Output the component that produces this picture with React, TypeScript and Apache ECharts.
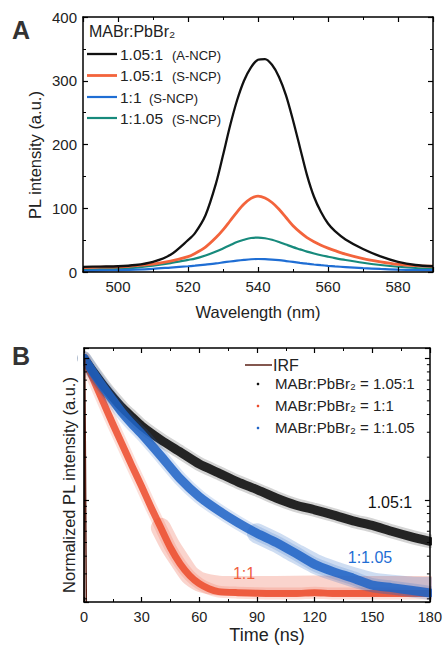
import React, { useEffect, useRef } from "react";
import * as echarts from "echarts";

// ---------- Panel A: PL spectra ----------
const WAVELENGTH = [490, 495, 500, 505, 510, 515, 520, 522, 525, 528, 530, 532, 534, 536, 538, 540, 542, 544, 546, 548, 550, 552, 554, 556, 558, 560, 562, 565, 570, 575, 580, 585, 590];
const PL_105_ANCP = [8, 8.5, 9, 11, 16, 27, 50, 61, 89, 139, 183, 229, 269, 300, 321, 333, 334, 325, 306, 277, 238, 195, 152, 118, 94, 76, 64, 51, 36, 24.5, 16, 11, 9];
const PL_105_SNCP = [7, 7.5, 8, 10, 12.5, 17, 24, 29, 39, 54, 66, 80, 94, 106.5, 115.5, 119, 116, 109, 98.5, 85.5, 72.5, 62.5, 54, 47.5, 42, 37.5, 33.5, 28, 21, 16, 12, 10, 9];
const PL_11_SNCP = [2, 2.5, 3, 3.7, 5, 7, 9, 10, 11.7, 13.5, 15, 16.5, 17.8, 19, 20, 20.4, 20.2, 19.5, 18.5, 17.2, 15.8, 14.3, 13, 11.8, 10.7, 9.7, 8.8, 7.7, 6, 4.8, 3.8, 3.2, 2.8];
const PL_1105_SNCP = [4, 4.5, 5, 7, 10, 14, 19, 21, 26, 32, 37, 42, 47, 50.5, 53.3, 54, 53, 50.5, 47, 43, 39, 35.5, 32, 29, 26.3, 24, 21.8, 18.8, 14.5, 11, 8.2, 6.3, 5];
const SPEC_NAMES = ["1.05:1 (A-NCP)", "1.05:1 (S-NCP)", "1:1 (S-NCP)", "1:1.05 (S-NCP)"];
const PL_Y_RANGE = [0, 400, 100];
const WL_RANGE = [490, 590];

// ---------- Panel B: TRPL decays (normalized, log scale) ----------
const TIME_RANGE = [0, 180, 30];
const TIME_MAIN = [0, 5, 10, 15, 20, 25, 30, 40, 50, 60, 70, 80, 90, 100, 110, 120, 130, 140, 150, 160, 170, 180];
const DECAY_105 = [1.0, 0.797, 0.645, 0.531, 0.445, 0.384, 0.332, 0.265, 0.218, 0.179, 0.155, 0.134, 0.118, 0.103, 0.092, 0.085, 0.078, 0.071, 0.066, 0.06, 0.055, 0.051];
const DECAY_1105 = [1.0, 0.784, 0.625, 0.506, 0.41, 0.343, 0.292, 0.204, 0.141, 0.105, 0.084, 0.069, 0.058, 0.05, 0.042, 0.035, 0.031, 0.028, 0.025, 0.024, 0.023, 0.022];
const TIME_11 = [0, 5, 10, 15, 20, 25, 30, 35, 40, 45, 50, 55, 60, 65, 70, 80, 90, 100, 110, 120, 130, 140, 150, 160, 170, 180];
const DECAY_11 = [1.0, 0.7, 0.49, 0.343, 0.244, 0.173, 0.124, 0.088, 0.0635, 0.0459, 0.0354, 0.0292, 0.0256, 0.0236, 0.0225, 0.0221, 0.0219, 0.0218, 0.0218, 0.0221, 0.0218, 0.0218, 0.0218, 0.0219, 0.0218, 0.0218];
// centre of the wide, sparse noise-floor cloud of the 1:1 trace
const FLOOR_11_TIME = [40, 45, 50, 55, 60, 70, 80, 100, 120, 140, 160, 180];
const FLOOR_11_MID = [0.0635, 0.047, 0.037, 0.0295, 0.0265, 0.0248, 0.0246, 0.0246, 0.0248, 0.0246, 0.0246, 0.0246];
// centre of the widening 1:1.05 cloud at long times
const FLOOR_1105_TIME = [90, 100, 110, 120, 130, 140, 150, 160, 170, 180];
const FLOOR_1105_MID = [0.058, 0.05, 0.042, 0.0355, 0.0315, 0.0285, 0.0262, 0.0252, 0.0245, 0.0242];
const IRF_TIME = [0, 0.4, 1.2];
const IRF_VALUE = [0.019, 1.0, 0.019];
const LOG_RANGE = [0.019, 1.18];
const LOG_MINOR_TICKS = [0.02, 0.03, 0.04, 0.05, 0.06, 0.07, 0.08, 0.09, 0.2, 0.3, 0.4, 0.5, 0.6, 0.7, 0.8, 0.9];
const DECAY_NAMES = ["IRF", "MABr:PbBr₂ = 1.05:1", "MABr:PbBr₂ = 1:1", "MABr:PbBr₂ = 1:1.05"];
const DECAY_LABELS = ["1.05:1", "1:1.05", "1:1"];

const FONT = "'Liberation Sans', Arial, Helvetica, sans-serif";
const TXT = "#222";
const C_BLACK = "#111111";
const C_ORANGE = "#f3643c";
const C_BLUE = "#1f6ed4";
const C_TEAL = "#178a7c";
const C_RED = "#ec4b2c";
const C_BBLUE = "#1f63c6";
const C_IRF = "#5a1f14";

const axisLine = { show: true, onZero: false, lineStyle: { color: "#000", width: 1.5 } };

function valAxis(gridIndex: number, position: string, min: number, max: number, extra: any = {}) {
  return {
    type: "value",
    gridIndex,
    position,
    min,
    max,
    z: 8,
    axisLine,
    axisTick: { show: true, inside: true, length: 5, lineStyle: { color: "#000", width: 1.2 } },
    minorTick: { show: true, splitNumber: 2, length: 3, lineStyle: { color: "#000", width: 1 } },
    splitLine: { show: false },
    axisLabel: { show: false },
    ...extra,
  };
}

const tickLabel = (margin: number, fontSize = 15) => ({
  show: true,
  margin,
  fontSize,
  color: TXT,
  fontFamily: FONT,
  showMinLabel: false,
  showMaxLabel: false,
});

function text(x: number, y: number, t: string, fontSize: number, fill: string, align = "left", rotation = 0, extra: any = {}) {
  return {
    type: "text",
    x,
    y,
    z: 9,
    rotation,
    silent: true,
    style: { text: t, fontSize, fill, fontFamily: FONT, align, verticalAlign: "middle", ...extra },
  };
}

function legendLine(x1: number, x2: number, y: number, color: string, width: number) {
  return { type: "line", silent: true, z: 9, shape: { x1, y1: y, x2, y2: y }, style: { stroke: color, lineWidth: width } };
}

export default function App() {
  const ref = useRef<HTMLDivElement>(null);
  useEffect(() => {
    document.body.style.margin = "0";
    const chart = echarts.init(ref.current!, null, { renderer: "svg" });

    const pair = (xs: number[], ys: number[]) => xs.map((x, i) => [x, ys[i]]);

    const specSeries = [
      { name: SPEC_NAMES[3], data: PL_1105_SNCP, color: C_TEAL, w: 2.2 },
      { name: SPEC_NAMES[2], data: PL_11_SNCP, color: C_BLUE, w: 2.2 },
      { name: SPEC_NAMES[1], data: PL_105_SNCP, color: C_ORANGE, w: 2.8 },
      { name: SPEC_NAMES[0], data: PL_105_ANCP, color: C_BLACK, w: 2.3 },
    ].map((s, i) => ({
      type: "line",
      name: s.name,
      xAxisIndex: 0,
      yAxisIndex: 0,
      data: pair(WAVELENGTH, s.data),
      showSymbol: false,
      smooth: 0.3,
      lineStyle: { color: s.color, width: s.w },
      itemStyle: { color: s.color },
      z: 3 + i,
    }));

    const band = (name: string | undefined, xs: number[], ys: number[], color: string, width: number, opacity: number, z: number) => ({
      type: "line",
      name,
      xAxisIndex: 2,
      yAxisIndex: 2,
      data: pair(xs, ys),
      showSymbol: false,
      clip: true,
      silent: !name,
      smooth: 0.2,
      lineStyle: { color, width, opacity, cap: "round", join: "round" },
      itemStyle: { color },
      z,
    });

    const option: any = {
      animation: false,
      backgroundColor: "#ffffff",
      grid: [
        { left: 83, top: 17, width: 350, height: 255 },
        { left: 84, top: 348, width: 347, height: 254 },
      ],
      xAxis: [
        valAxis(0, "bottom", WL_RANGE[0], WL_RANGE[1], { splitNumber: 5, axisLabel: tickLabel(7) }),
        valAxis(0, "top", WL_RANGE[0], WL_RANGE[1], { splitNumber: 5 }),
        valAxis(1, "bottom", TIME_RANGE[0], TIME_RANGE[1], { interval: TIME_RANGE[2], axisLabel: { ...tickLabel(7, 14.5), showMinLabel: true, showMaxLabel: true } }),
        valAxis(1, "top", TIME_RANGE[0], TIME_RANGE[1], { interval: TIME_RANGE[2] }),
      ],
      yAxis: [
        valAxis(0, "left", PL_Y_RANGE[0], PL_Y_RANGE[1], { interval: PL_Y_RANGE[2], axisLabel: { ...tickLabel(6), showMinLabel: true, showMaxLabel: true } }),
        valAxis(0, "right", PL_Y_RANGE[0], PL_Y_RANGE[1], { interval: PL_Y_RANGE[2] }),
        { ...valAxis(1, "left", LOG_RANGE[0], LOG_RANGE[1]), type: "log", minorTick: { show: false } },
        { ...valAxis(1, "right", LOG_RANGE[0], LOG_RANGE[1]), type: "log", minorTick: { show: false } },
      ],
      series: [
        ...specSeries,
        // 1:1 (red): sparse noise floor, soft edge, core
        band(undefined, FLOOR_11_TIME, FLOOR_11_MID, C_RED, 20, 0.24, 2),
        band(undefined, TIME_11, DECAY_11, C_RED, 12, 0.18, 2),
        band(DECAY_NAMES[2], TIME_11, DECAY_11, C_RED, 7, 0.85, 3),
        // 1.05:1 (black)
        band(undefined, TIME_MAIN, DECAY_105, C_BLACK, 14, 0.18, 4),
        band(DECAY_NAMES[1], TIME_MAIN, DECAY_105, C_BLACK, 9, 0.9, 4),
        // 1:1.05 (blue)
        band(undefined, FLOOR_1105_TIME, FLOOR_1105_MID, C_BBLUE, 20, 0.22, 5),
        band(undefined, TIME_MAIN, DECAY_1105, C_BBLUE, 14, 0.18, 5),
        band(DECAY_NAMES[3], TIME_MAIN, DECAY_1105, C_BBLUE, 9, 0.85, 5),
        {
          type: "line",
          name: DECAY_NAMES[0],
          xAxisIndex: 2,
          yAxisIndex: 2,
          data: pair(IRF_TIME, IRF_VALUE),
          showSymbol: false,
          lineStyle: { color: C_IRF, width: 1.5 },
          z: 6,
        },
        {
          type: "custom",
          xAxisIndex: 2,
          yAxisIndex: 2,
          silent: true,
          z: 10,
          data: LOG_MINOR_TICKS.map((v) => [TIME_RANGE[0], v]),
          renderItem: (params: any, api: any) => {
            const v = api.value(1);
            const l = api.coord([TIME_RANGE[0], v]);
            const r = api.coord([TIME_RANGE[1], v]);
            return {
              type: "group",
              children: [
                { type: "line", shape: { x1: l[0], y1: l[1], x2: l[0] + 3, y2: l[1] }, style: { stroke: "#000", lineWidth: 1 } },
                { type: "line", shape: { x1: r[0] - 3, y1: r[1], x2: r[0], y2: r[1] }, style: { stroke: "#000", lineWidth: 1 } },
              ],
            };
          },
        },
      ],
      graphic: [
        // white masks outside plot B (hide stroke overflow of the wide bands)
        { type: "rect", silent: true, z: 7, shape: { x: 432, y: 340, width: 13, height: 270 }, style: { fill: "#fff" } },
        { type: "rect", silent: true, z: 7, shape: { x: 78, y: 603, width: 362, height: 5 }, style: { fill: "#fff" } },
        { type: "rect", silent: true, z: 7, shape: { x: 78, y: 340, width: 5.3, height: 268 }, style: { fill: "#fff" } },
        { type: "rect", silent: true, z: 7, shape: { x: 78, y: 338, width: 362, height: 9.3 }, style: { fill: "#fff" } },
        // panel letters
        text(12, 30, "A", 25, "#333", "left", 0, { fontWeight: "bold", fontFamily: "'Liberation Sans Narrow', 'Liberation Sans', Arial" }),
        text(12, 356, "B", 25, "#333", "left", 0, { fontWeight: "bold", fontFamily: "'Liberation Sans Narrow', 'Liberation Sans', Arial" }),
        // axis names
        text(35, 155, "PL intensity (a.u.)", 16.5, TXT, "center", Math.PI / 2),
        text(258, 312, "Wavelength (nm)", 16.5, TXT, "center"),
        text(69, 485, "Normalized PL intensity (a.u.)", 16.5, TXT, "center", Math.PI / 2),
        text(267, 635, "Time (ns)", 18, TXT, "center"),
        // legend A
        text(89, 31, "MABr:PbBr₂", 16, TXT),
        legendLine(87, 117, 54, C_BLACK, 2.3),
        legendLine(87, 117, 75.5, C_ORANGE, 2.8),
        legendLine(87, 117, 97, C_BLUE, 2.2),
        legendLine(87, 117, 118, C_TEAL, 2.2),
        text(120, 54, "1.05:1", 15.5, TXT),
        text(172, 55, "(A-NCP)", 13, TXT),
        text(120, 75.5, "1.05:1", 15.5, TXT),
        text(172, 76.5, "(S-NCP)", 13, TXT),
        text(120, 97, "1:1", 15.5, TXT),
        text(149, 98, "(S-NCP)", 13, TXT),
        text(120, 118, "1:1.05", 15.5, TXT),
        text(172, 119, "(S-NCP)", 13, TXT),
        // legend B
        legendLine(245, 272, 365, C_IRF, 1.5),
        text(273, 365, DECAY_NAMES[0], 16, TXT),
        { type: "circle", silent: true, z: 9, shape: { cx: 258, cy: 384, r: 1.3 }, style: { fill: C_BLACK } },
        { type: "circle", silent: true, z: 9, shape: { cx: 258, cy: 406, r: 1.3 }, style: { fill: C_RED } },
        { type: "circle", silent: true, z: 9, shape: { cx: 258, cy: 428, r: 1.3 }, style: { fill: C_BBLUE } },
        text(275, 383, DECAY_NAMES[1], 15, TXT),
        text(275, 405, DECAY_NAMES[2], 15, TXT),
        text(275, 427, DECAY_NAMES[3], 15, TXT),
        // curve labels B
        text(390, 502, DECAY_LABELS[0], 16, C_BLACK, "center"),
        text(370, 557, DECAY_LABELS[1], 16, C_BLUE, "center"),
        text(244, 573, DECAY_LABELS[2], 16, "#f0603f", "center"),
      ],
    };
    chart.setOption(option);
    return () => chart.dispose();
  }, []);
  return <div ref={ref} style={{ width: 445, height: 645 }} />;
}
